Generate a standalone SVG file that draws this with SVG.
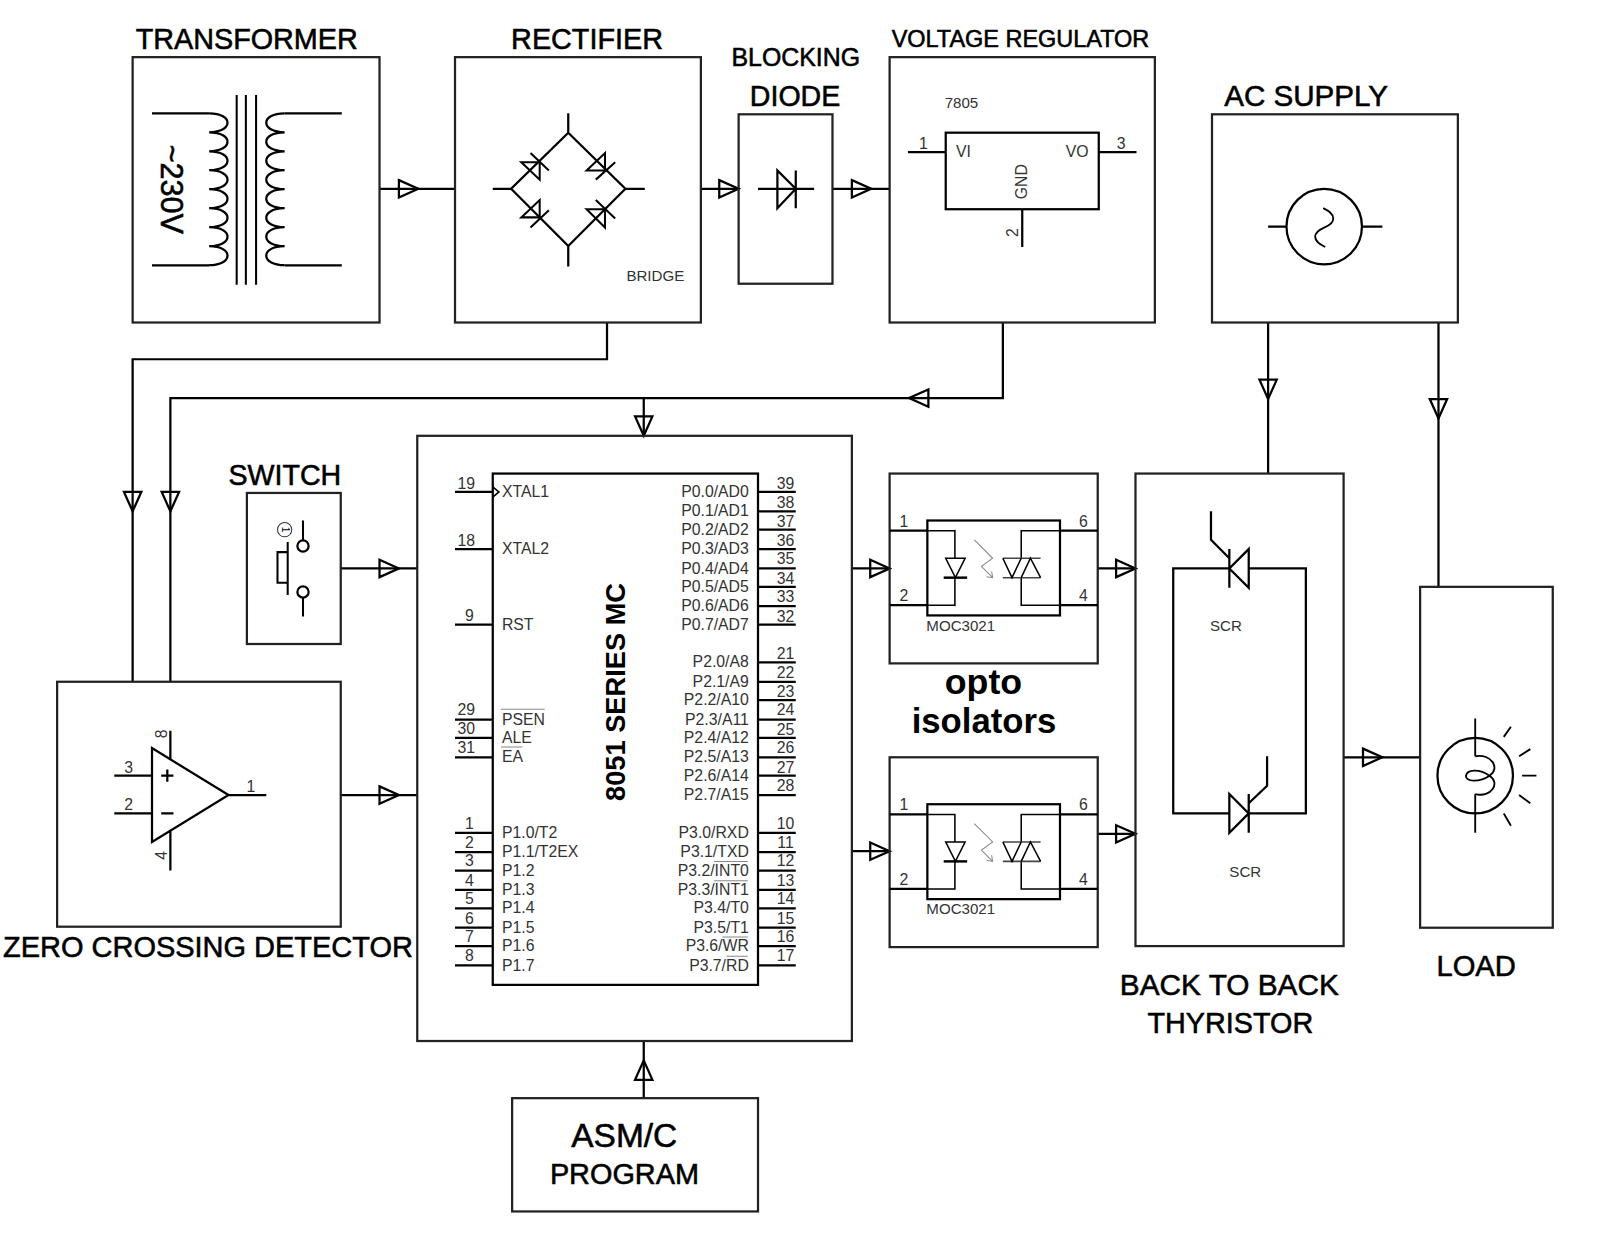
<svg xmlns="http://www.w3.org/2000/svg" xmlns:xlink="http://www.w3.org/1999/xlink" width="1600" height="1240" viewBox="0 0 1600 1240">
<style>
text{font-family:"Liberation Sans",Arial,sans-serif;fill:#000}
.h{stroke:#000;stroke-width:.55}
.b{font-weight:700}
.s{font-size:15.5px;fill:#333}
.n{font-size:14.800px;fill:#333}
.e{text-anchor:end}
.m{text-anchor:middle}
.box{fill:none;stroke:#222;stroke-width:2.2}
.w{fill:none;stroke:#000;stroke-width:2.2}
.t{fill:none;stroke:#000;stroke-width:1.5}
.g{fill:none;stroke:#888;stroke-width:1}
</style>
<defs>
<polygon id="a" points="0,-8.5 19,0 0,8.5" fill="none" stroke="#000" stroke-width="2.2"/>
<g id="opto-sym">
<rect x="909" y="510" width="130" height="93" class="w"/>
<path d="M872 520H909M872 593H909M1039 520H1076M1039 593H1076" class="w"/>
<path d="M909 520H936V547M936 566V593H909M1039 520H1001V547M1001 566V593H1039" class="t"/>
<path d="M927 547H946L936.500 566Z" class="t"/>
<path d="M925 566H948" stroke="#000" stroke-width="2.400" fill="none"/>
<path d="M983 547H1020M983 566H1020" stroke="#444" stroke-width="1.500" fill="none"/>
<path d="M983 547L992 566L1001 547M1001 566L1010 547L1020 566" class="t"/>
<path d="M955 529L973 547L962 555L973 566M967 565L973 566L972 560" class="g"/>
<text x="886" y="516" class="s m">1</text>
<text x="886" y="589" class="s m">2</text>
<text x="1062" y="516" class="s m">6</text>
<text x="1062" y="589" class="s m">4</text>
<text x="908" y="618" class="n">MOC3021</text>
</g>
</defs>
<rect width="1600" height="1240" fill="#fff"/>
<g transform="scale(1.0202 1.0206)">
<g id="connectors">
<path class="w" d="M372 185H446M687 185H724M816 185H872M595 316V352H130V668M983 316V390H167V668M631 390V427M334 557H409M334 779H409M835 557H872M835 834H872M1076 557H1113M1076 817H1113M1317 742H1392M1243 316V464M1410 316V575M631 1076V1020"/>
<use href="#a" transform="translate(391 185)"/>
<use href="#a" transform="translate(705 185)"/>
<use href="#a" transform="translate(835 185)"/>
<use href="#a" transform="translate(130 482) rotate(90)"/>
<use href="#a" transform="translate(167 482) rotate(90)"/>
<use href="#a" transform="translate(910 390) rotate(180)"/>
<use href="#a" transform="translate(631 408) rotate(90)"/>
<use href="#a" transform="translate(372 557)"/>
<use href="#a" transform="translate(372 779)"/>
<use href="#a" transform="translate(853 557)"/>
<use href="#a" transform="translate(853 834)"/>
<use href="#a" transform="translate(1094 557)"/>
<use href="#a" transform="translate(1094 817)"/>
<use href="#a" transform="translate(1336 742)"/>
<use href="#a" transform="translate(1243 372) rotate(90)"/>
<use href="#a" transform="translate(1410 391) rotate(90)"/>
<use href="#a" transform="translate(631 1058) rotate(-90)"/>
</g>
<g id="transformer">
<rect x="130" y="56" width="242" height="260" class="box"/>
<text x="133" y="48" font-size="28.200" class="h">TRANSFORMER</text>
<path class="w" d="M149 111H205M149 260H205M335 111H279M335 260H279"/>
<path class="t" d="M232 93V279M241 93V279M251 93V279" style="stroke-width:2"/>
<path class="w" d="M205 111c24 0 24 18.600 0 18.600c24 0 24 18.600 0 18.600c24 0 24 18.600 0 18.600c24 0 24 18.600 0 18.600c24 0 24 18.600 0 18.600c24 0 24 18.600 0 18.600c24 0 24 18.600 0 18.600c24 0 24 18.600 0 18.600"/>
<path class="w" d="M279 111c-24 0 -24 18.600 0 18.600c-24 0 -24 18.600 0 18.600c-24 0 -24 18.600 0 18.600c-24 0 -24 18.600 0 18.600c-24 0 -24 18.600 0 18.600c-24 0 -24 18.600 0 18.600c-24 0 -24 18.600 0 18.600c-24 0 -24 18.600 0 18.600"/>
<text transform="translate(158 185.500) rotate(90)" font-size="30" class="m h">~230V</text>
</g>
<g id="rectifier">
<rect x="446" y="56" width="241" height="260" class="box"/>
<text x="501" y="48" font-size="28.200" class="h">RECTIFIER</text>
<path class="w" d="M557 111V130L501 185L557 241V261M483 185H501M557 130L613 185L557 241M613 185H632"/>
<path class="t" d="M511 159H529V176ZM520 150L538 167M575 167H593V150ZM584 176L603 159M511 213H529V196ZM520 223L538 206M575 205H593V223ZM584 196L603 214" style="stroke-width:2"/>
<text x="614" y="275" class="n">BRIDGE</text>
</g>
<g id="blocking-diode">
<rect x="724" y="112" width="92" height="166" class="box"/>
<text x="717" y="65" font-size="24.400" class="h">BLOCKING</text>
<text x="735" y="104" font-size="28" class="h">DIODE</text>
<path class="w" d="M743 185H798M762 167V204L780 185ZM780 167V204"/>
</g>
<g id="voltage-regulator">
<rect x="872" y="56" width="260" height="260" class="box"/>
<text x="874" y="46" font-size="23" class="h">VOLTAGE REGULATOR</text>
<rect x="927" y="130" width="150" height="75" class="w"/>
<path class="w" d="M890 149H927M1077 149H1114M1002 205V242"/>
<text x="926" y="106" class="n">7805</text>
<text x="905" y="146" class="s m">1</text>
<text x="1099" y="146" class="s m">3</text>
<text x="937" y="154" class="s">VI</text>
<text x="1067" y="154" class="s e">VO</text>
<text transform="translate(1007 178) rotate(-90)" class="s m">GND</text>
<text transform="translate(998 228) rotate(-90)" class="s m">2</text>
</g>
<g id="ac-supply">
<rect x="1188" y="112" width="241" height="204" class="box"/>
<text x="1200" y="104" font-size="29" class="h">AC SUPPLY</text>
<circle cx="1298" cy="222" r="37" class="w"/>
<path class="w" d="M1243 222H1261M1335 222H1355"/>
<path class="t" d="M1297 204C1310 210 1310 218 1298 223C1286 228 1286 236 1299 242" style="stroke-width:1.800"/>
</g>
<g id="switch">
<rect x="242" y="483" width="92" height="148" class="box"/>
<text x="224" y="475" font-size="28" class="h">SWITCH</text>
<circle cx="297" cy="535" r="5.500" class="w"/>
<circle cx="297" cy="580" r="5.500" class="w"/>
<path class="w" d="M297 510V529.500M297 585.500V604M282 531V583M282 541H272V571H282" style="stroke-width:2"/>
<circle cx="279" cy="519" r="7" fill="none" stroke="#333" stroke-width="1"/>
<text transform="translate(276 519) rotate(90)" font-size="10" class="m">1</text>
</g>
<g id="zero-crossing-detector">
<rect x="56" y="668" width="278" height="240" class="box"/>
<text x="3" y="938" font-size="28.400" class="h">ZERO CROSSING DETECTOR</text>
<path class="w" d="M149 733V825L224 779ZM112 760H149M112 797H149M224 779H261M167 716V744M167 814V853"/>
<path class="w" d="M158 760H170M164 754V766M158 797H170"/>
<text x="126" y="757" class="s m">3</text>
<text x="126" y="794" class="s m">2</text>
<text x="246" y="776" class="s m">1</text>
<text transform="translate(164 719) rotate(-90)" class="s m">8</text>
<text transform="translate(164 838) rotate(-90)" class="s m">4</text>
</g>
<g id="microcontroller">
<rect x="409" y="427" width="426" height="593" class="box"/>
<rect x="483" y="464" width="260" height="501" class="w"/>
<text transform="translate(613 678) rotate(-90)" font-size="26.700" class="m b">8051 SERIES MC</text>
<path class="w" d="M446 482H483M446 538H483M446 612H483M446 705H483M446 723H483M446 742H483M446 816H483M446 835H483M446 853H483M446 872H483M446 890H483M446 909H483M446 927H483M446 946H483"/>
<path class="w" d="M743 482H780M743 501H780M743 519H780M743 538H780M743 557H780M743 575H780M743 594H780M743 612H780M743 649H780M743 668H780M743 686H780M743 705H780M743 723H780M743 742H780M743 760H780M743 779H780M743 816H780M743 835H780M743 853H780M743 872H780M743 890H780M743 909H780M743 927H780M743 946H780"/>
<path class="w" d="M483 477L489 482L483 487" style="stroke-width:1.600"/>
<path class="g" d="M491 695H534M491 732H512M700 844H733M700 863H733M708 918H733M712 937H733"/>
<text x="492" y="487" class="s">XTAL1</text><text x="492" y="543" class="s">XTAL2</text><text x="492" y="617" class="s">RST</text><text x="492" y="710" class="s">PSEN</text><text x="492" y="728" class="s">ALE</text><text x="492" y="747" class="s">EA</text>
<text x="492" y="821" class="s">P1.0/T2</text><text x="492" y="840" class="s">P1.1/T2EX</text><text x="492" y="858" class="s">P1.2</text><text x="492" y="877" class="s">P1.3</text><text x="492" y="895" class="s">P1.4</text><text x="492" y="914" class="s">P1.5</text><text x="492" y="932" class="s">P1.6</text><text x="492" y="951" class="s">P1.7</text>
<text x="734" y="487" class="s e">P0.0/AD0</text><text x="734" y="506" class="s e">P0.1/AD1</text><text x="734" y="524" class="s e">P0.2/AD2</text><text x="734" y="543" class="s e">P0.3/AD3</text><text x="734" y="562" class="s e">P0.4/AD4</text><text x="734" y="580" class="s e">P0.5/AD5</text><text x="734" y="599" class="s e">P0.6/AD6</text><text x="734" y="617" class="s e">P0.7/AD7</text>
<text x="734" y="654" class="s e">P2.0/A8</text><text x="734" y="673" class="s e">P2.1/A9</text><text x="734" y="691" class="s e">P2.2/A10</text><text x="734" y="710" class="s e">P2.3/A11</text><text x="734" y="728" class="s e">P2.4/A12</text><text x="734" y="747" class="s e">P2.5/A13</text><text x="734" y="765" class="s e">P2.6/A14</text><text x="734" y="784" class="s e">P2.7/A15</text>
<text x="734" y="821" class="s e">P3.0/RXD</text><text x="734" y="840" class="s e">P3.1/TXD</text><text x="734" y="858" class="s e">P3.2/INT0</text><text x="734" y="877" class="s e">P3.3/INT1</text><text x="734" y="895" class="s e">P3.4/T0</text><text x="734" y="914" class="s e">P3.5/T1</text><text x="734" y="932" class="s e">P3.6/WR</text><text x="734" y="951" class="s e">P3.7/RD</text>
<text x="457" y="479" class="s m">19</text><text x="457" y="535" class="s m">18</text><text x="460" y="608" class="s m">9</text><text x="457" y="701" class="s m">29</text><text x="457" y="719" class="s m">30</text><text x="457" y="738" class="s m">31</text>
<text x="460" y="812" class="s m">1</text><text x="460" y="831" class="s m">2</text><text x="460" y="849" class="s m">3</text><text x="460" y="868" class="s m">4</text><text x="460" y="886" class="s m">5</text><text x="460" y="905" class="s m">6</text><text x="460" y="923" class="s m">7</text><text x="460" y="942" class="s m">8</text>
<text x="770" y="479" class="s m">39</text><text x="770" y="498" class="s m">38</text><text x="770" y="516" class="s m">37</text><text x="770" y="535" class="s m">36</text><text x="770" y="553" class="s m">35</text><text x="770" y="572" class="s m">34</text><text x="770" y="590" class="s m">33</text><text x="770" y="609" class="s m">32</text>
<text x="770" y="646" class="s m">21</text><text x="770" y="664" class="s m">22</text><text x="770" y="683" class="s m">23</text><text x="770" y="701" class="s m">24</text><text x="770" y="720" class="s m">25</text><text x="770" y="738" class="s m">26</text><text x="770" y="757" class="s m">27</text><text x="770" y="775" class="s m">28</text>
<text x="770" y="812" class="s m">10</text><text x="770" y="831" class="s m">11</text><text x="770" y="849" class="s m">12</text><text x="770" y="868" class="s m">13</text><text x="770" y="886" class="s m">14</text><text x="770" y="905" class="s m">15</text><text x="770" y="923" class="s m">16</text><text x="770" y="942" class="s m">17</text>
</g>
<g id="opto-isolator-1">
<rect x="872" y="464" width="204" height="186" class="box"/>
<use href="#opto-sym"/>
</g>
<g id="opto-label">
<text x="964" y="680" font-size="35" class="m b">opto</text>
<text x="964.500" y="718" font-size="34" class="m b">isolators</text>
</g>
<g id="opto-isolator-2">
<rect x="872" y="742" width="204" height="186" class="box"/>
<use href="#opto-sym" y="278"/>
</g>
<g id="back-to-back-thyristor">
<rect x="1113" y="464" width="204" height="463" class="box"/>
<path class="w" d="M1205 557H1150V797H1205M1224 557H1280V797H1224M1205 538V576M1224 538V576L1205 557ZM1205 547L1187 529V501M1205 778V816L1224 797ZM1224 778V816M1224 787L1242 770V741"/>
<text x="1186" y="618" class="n">SCR</text>
<text x="1205" y="859" class="n">SCR</text>
<text x="1205" y="975" font-size="29.200" class="m h">BACK TO BACK</text>
<text x="1206" y="1012" font-size="28.200" class="m h">THYRISTOR</text>
</g>
<g id="load">
<rect x="1392" y="575" width="130" height="334" class="box"/>
<circle cx="1446" cy="760" r="37" class="w"/>
<path class="w" d="M1446 704V741M1446 778V816M1481 712L1474 722M1500 734L1489 741M1492 760H1506M1489 779L1500 787M1474 797L1481 809" style="stroke-width:1.800"/>
<path class="t" d="M1446 741C1462 738 1471 753 1460 760C1450 767 1436 766 1437 760C1438 754 1450 753 1460 760C1471 767 1462 782 1446 778" style="stroke-width:1.800"/>
<text x="1408" y="956" font-size="28.600" class="h">LOAD</text>
</g>
<g id="program">
<rect x="502" y="1076" width="241" height="111" class="box"/>
<text x="560" y="1124" font-size="32.800" class="h">ASM/C</text>
<text x="539" y="1160" font-size="28.300" class="h">PROGRAM</text>
</g>
</g>
</svg>
